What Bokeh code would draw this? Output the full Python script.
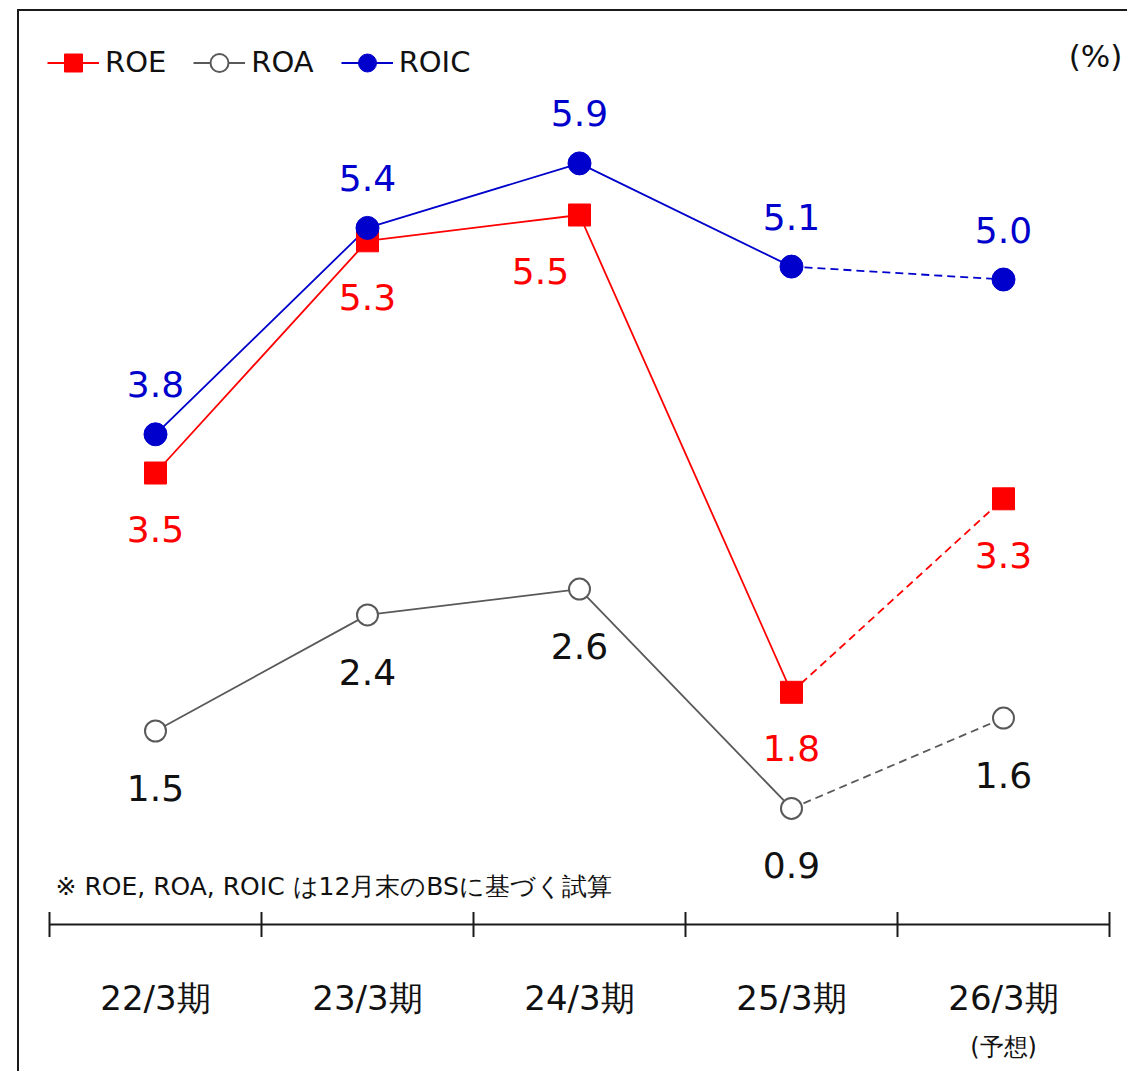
import math
from bokeh.plotting import figure
from bokeh.models import Range1d, Legend, LegendItem
from bokeh.core.properties import value
from bokeh.embed import file_html
from bokeh.resources import INLINE

# ---- data ----
categories = ["22/3期", "23/3期", "24/3期", "25/3期", "26/3期"]
forecast_note = "(予想)"
roe = [3.5, 5.3, 5.5, 1.8, 3.3]
roa = [1.5, 2.4, 2.6, 0.9, 1.6]
roic = [3.8, 5.4, 5.9, 5.1, 5.0]
n_actual = 4  # last point is forecast (dashed)
note_text = "※ ROE, ROA, ROIC は12月末のBSに基づく試算"
unit_text = "(%)"

# ---- style ----
FONT = "DejaVu Sans"
RED = "#FF0000"
BLUE = "#0000CC"
GRAY = "#595959"
DARK = "#1a1a1a"

W, H = 1127, 1071
# pixel mapping: x: 212 px per category, y: 129 px per %
x_px, y_px = 212.0, 129.0
x0 = -155.0 / x_px
x1 = x0 + W / x_px
y1 = 924.0 / y_px
y0 = y1 - H / y_px

p = figure(width=W, height=H, output_backend="svg", toolbar_location=None,
           x_range=Range1d(x0, x1), y_range=Range1d(y0, y1),
           x_axis_location=None, y_axis_location=None,
           min_border=0, min_border_left=0, min_border_right=0,
           min_border_top=0, min_border_bottom=0)
p.grid.visible = False
p.outline_line_color = None
p.background_fill_color = "white"
p.border_fill_color = "white"

# outer frame (left and top edges visible)
frame_left = x0 + 17.5 / x_px
frame_top = y1 - 9.5 / y_px
p.line(x=[frame_left, frame_left, x1 + 1], y=[y0 - 1, frame_top, frame_top],
       line_color=DARK, line_width=2, line_join="miter")

idx = list(range(len(categories)))
bounds = [i - 0.5 for i in range(len(categories) + 1)]

# category axis drawn at y=0
p.line(x=[bounds[0], bounds[-1]], y=[0, 0], line_color=DARK, line_width=2)
p.scatter(x=bounds, y=[0] * len(bounds), marker="dash", angle=math.pi / 2, size=25,
          line_color=DARK, line_width=2)
p.text(x=idx, y=[0] * len(idx), text=categories, y_offset=73,
       text_align="center", text_baseline="middle",
       text_font=value(FONT), text_font_size="34px", text_color="#111111")
p.text(x=[idx[-1]], y=[0], text=[forecast_note], y_offset=122,
       text_align="center", text_baseline="middle",
       text_font=value(FONT), text_font_size="24px", text_color="#111111")
p.text(x=[idx[0]], y=[0], text=[note_text], x_offset=-100, y_offset=-38,
       text_align="left", text_baseline="middle",
       text_font=value(FONT), text_font_size="25px", text_color="#111111")
p.text(x=[idx[-1]], y=[y1], text=[unit_text], x_offset=92, y_offset=55,
       text_align="center", text_baseline="middle",
       text_font=value(FONT), text_font_size="31px", text_color="#111111")


def series(vals, color, lw):
    solid = p.line(x=idx[:n_actual], y=vals[:n_actual], line_color=color, line_width=lw)
    p.line(x=idx[n_actual - 1:], y=vals[n_actual - 1:], line_color=color, line_width=lw,
           line_dash="8 5")
    return solid


r_roa_line = series(roa, GRAY, 1.8)
r_roe_line = series(roe, RED, 1.8)
r_roic_line = series(roic, BLUE, 1.8)

r_roa_pts = p.scatter(x=idx, y=roa, marker="circle", size=21, fill_color="white",
                      line_color=GRAY, line_width=2)
r_roe_pts = p.scatter(x=idx, y=roe, marker="square", size=22, fill_color=RED,
                      line_color=RED, line_width=1)
r_roic_pts = p.scatter(x=idx, y=roic, marker="circle", size=23, fill_color=BLUE,
                       line_color=BLUE, line_width=1)

# value labels
roe_dx = [0, 0, -39, 0, 0]
p.text(x=idx, y=roe, text=[f"{v:.1f}" for v in roe], x_offset=roe_dx, y_offset=56,
       text_align="center", text_baseline="middle",
       text_font=value(FONT), text_font_size="36px", text_color=RED)
p.text(x=idx, y=roa, text=[f"{v:.1f}" for v in roa], y_offset=57,
       text_align="center", text_baseline="middle",
       text_font=value(FONT), text_font_size="36px", text_color="#111111")
p.text(x=idx, y=roic, text=[f"{v:.1f}" for v in roic], y_offset=-50,
       text_align="center", text_baseline="middle",
       text_font=value(FONT), text_font_size="36px", text_color=BLUE)

legend = Legend(items=[
    LegendItem(label="ROE", renderers=[r_roe_line, r_roe_pts]),
    LegendItem(label="ROA", renderers=[r_roa_line, r_roa_pts]),
    LegendItem(label="ROIC", renderers=[r_roic_line, r_roic_pts]),
], orientation="horizontal", location=(47, H - 84.5),
    glyph_width=52, glyph_height=45, label_standoff=6, spacing=27,
    padding=0, margin=0, border_line_color=None, background_fill_alpha=0,
    label_text_font=FONT, label_text_font_size="29px", label_text_color="#111111",
    label_height=45)
p.add_layout(legend, "center")

open("out.html", "w").write(file_html(p, INLINE))
